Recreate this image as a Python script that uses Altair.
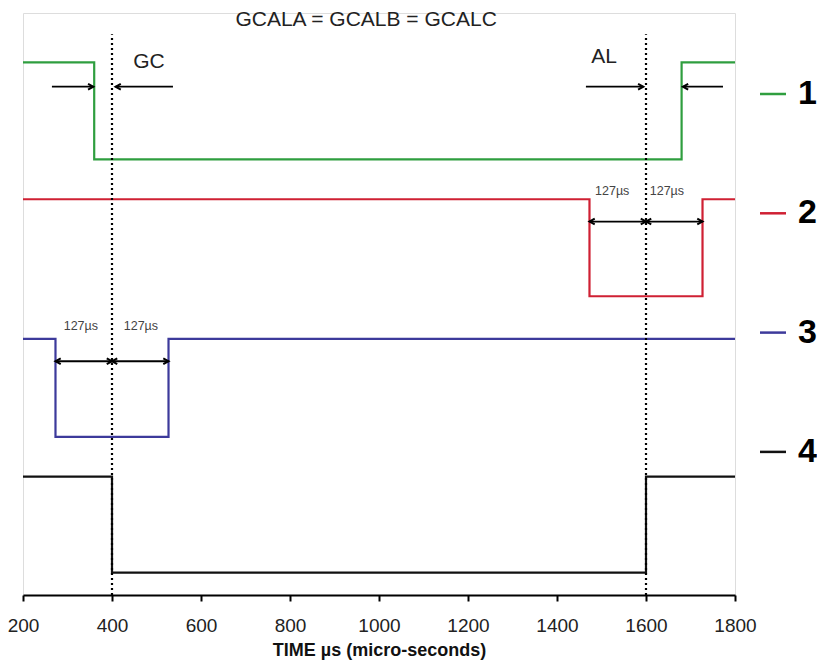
import altair as alt
import pandas as pd

# ---------------- data ----------------
x_ticks = [200, 400, 600, 800, 1000, 1200, 1400, 1600, 1800]
signal_names = ["1", "2", "3", "4"]
signal_colors = ["#2f9e3f", "#cf2033", "#3d3a9b", "#111111"]

# step-after waveforms (time in µs, level in arbitrary units)
sig1_t = [200, 360, 1680, 1800]
sig1_v = [5.26, 4.26, 5.26, 5.26]
sig2_t = [200, 1473, 1727, 1800]
sig2_v = [3.85, 2.85, 3.85, 3.85]
sig3_t = [200, 273, 527, 1800]
sig3_v = [2.41, 1.40, 2.41, 2.41]
sig4_t = [200, 400, 1600, 1800]
sig4_v = [0.99, 0.0, 0.99, 0.99]

# dotted reference lines
marker_t = [400, 1600]
marker_bottom = -0.23
marker_top = 5.55

# arrows (head at end; double arrows have heads at both ends)
arrow_start = [265, 537, 1465, 1773, 1473, 1600, 273, 400]
arrow_end = [358, 408, 1594, 1683, 1600, 1727, 400, 527]
arrow_level = [5.01, 5.01, 5.01, 5.01, 3.62, 3.62, 2.18, 2.18]
arrow_double = [False, False, False, False, True, True, True, True]

# annotations
title_text = ["GCALA = GCALB = GCALC"]
title_t = [971]
title_v = [5.70]
big_labels = ["GC", "AL"]
big_t = [483, 1506]
big_v = [5.27, 5.32]
small_labels = ["127µs", "127µs", "127µs", "127µs"]
small_t = [1524, 1647, 330, 465]
small_v = [3.94, 3.94, 2.54, 2.54]

# ---------------- tables ----------------
rows = []
for name, ts, vs in zip(signal_names, [sig1_t, sig2_t, sig3_t, sig4_t],
                        [sig1_v, sig2_v, sig3_v, sig4_v]):
    for i, (t, v) in enumerate(zip(ts, vs)):
        rows.append({"signal": name, "t": t, "v": v, "o": i})
signals = pd.DataFrame(rows)

markers = pd.DataFrame({"t": marker_t, "v": [marker_bottom] * 2, "v2": [marker_top] * 2})

shafts = pd.DataFrame({"t": arrow_start, "t2": arrow_end, "v": arrow_level})
heads_rows = []
for a, b, lv, dbl in zip(arrow_start, arrow_end, arrow_level, arrow_double):
    heads_rows.append({"t": b, "v": lv, "dir": "right" if b > a else "left"})
    if dbl:
        heads_rows.append({"t": a, "v": lv, "dir": "left" if b > a else "right"})
heads = pd.DataFrame(heads_rows)

titles = pd.DataFrame({"label": title_text, "t": title_t, "v": title_v})
bigs = pd.DataFrame({"label": big_labels, "t": big_t, "v": big_v})
smalls = pd.DataFrame({"label": small_labels, "t": small_t, "v": small_v})

# ---------------- encodings ----------------
FONT = "Liberation Sans, Arial, Helvetica"
xscale = alt.Scale(domain=[200, 1800], nice=False, zero=False)
yscale = alt.Scale(domain=[-0.23, 5.77], nice=False, zero=False)

x_axis = alt.Axis(
    values=x_ticks, format="d", title="TIME µs (micro-seconds)", grid=False,
    domainColor="black", domainWidth=2, tickColor="black", tickWidth=2, tickSize=6,
    labelFont=FONT, labelFontSize=19, labelColor="#222", labelPadding=15, labelFlush=False,
    titleFont=FONT, titleFontSize=18, titleFontWeight="bold", titleColor="#111",
    titlePadding=6,
)

X = alt.X("t:Q", scale=xscale, axis=x_axis)
Y = alt.Y("v:Q", scale=yscale, axis=None)

lines = alt.Chart(signals).mark_line(interpolate="step-after", strokeWidth=2.2).encode(
    x=X, y=Y, order="o:Q",
    color=alt.Color(
        "signal:N",
        scale=alt.Scale(domain=signal_names, range=signal_colors),
        legend=alt.Legend(
            title=None, orient="none", legendX=733, legendY=64, padding=0,
            symbolType="stroke", symbolSize=676, symbolStrokeWidth=2.5,
            labelFont=FONT, labelFontSize=34, labelFontWeight="bold", labelColor="#000",
            labelOffset=8, rowPadding=85.3, labelLimit=100,
        ),
    ),
)

dotted = alt.Chart(markers).mark_rule(color="black", strokeWidth=2.2, strokeDash=[2, 3]).encode(
    x="t:Q", y="v:Q", y2="v2:Q"
)

shaft = alt.Chart(shafts).mark_rule(color="black", strokeWidth=1.8).encode(
    x="t:Q", x2="t2:Q", y="v:Q"
)

path_r = "M-1,-0.55L0,0L-1,0.55"
path_l = "M1,-0.55L0,0L1,0.55"
head = alt.Chart(heads).mark_point(filled=False, color="black", strokeWidth=2, size=110, opacity=1).encode(
    x="t:Q", y="v:Q",
    shape=alt.Shape("dir:N", scale=alt.Scale(domain=["right", "left"], range=[path_r, path_l]), legend=None),
)

title = alt.Chart(titles).mark_text(
    font=FONT, fontSize=21, color="#222", baseline="middle", align="center"
).encode(x="t:Q", y="v:Q", text="label:N")

big = alt.Chart(bigs).mark_text(
    font=FONT, fontSize=21, color="#222", baseline="middle", align="center"
).encode(x="t:Q", y="v:Q", text="label:N")

small = alt.Chart(smalls).mark_text(
    font=FONT, fontSize=12.5, color="#444", baseline="middle", align="center"
).encode(x="t:Q", y="v:Q", text="label:N")

chart = alt.layer(lines, dotted, shaft, head, title, big, small).properties(
    width=712, height=582,
    autosize=alt.AutoSizeParams(type="none"),
    padding={"left": 15, "top": 5, "right": 82, "bottom": 65},
).configure_view(stroke=None).configure(background="white")

chart.save("out.html", embed_options={"renderer": "svg", "actions": False})
